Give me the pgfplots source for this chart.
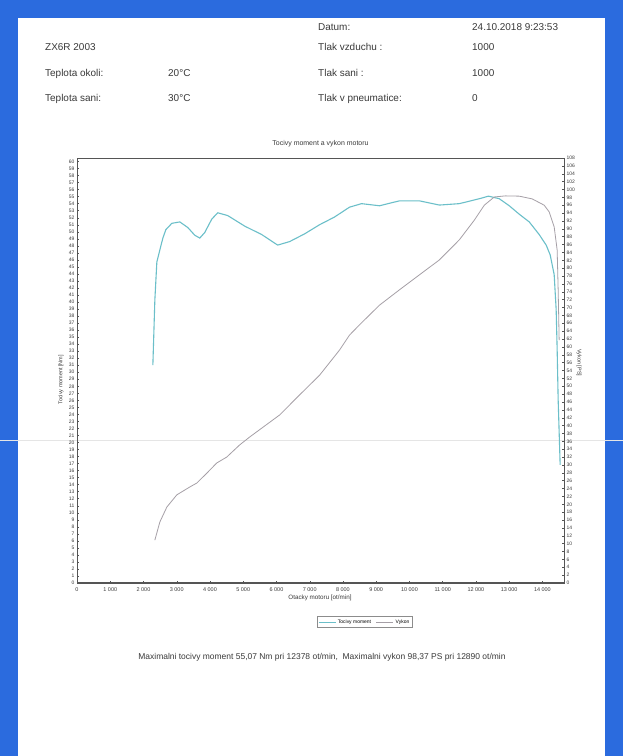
\documentclass[border=0pt]{standalone}
\usepackage{fontspec}
\setmainfont{Liberation Sans}
\usepackage{pgfplots}
\usepackage{pgfplotstable}
\pgfplotsset{compat=1.18}

\definecolor{scanblue}{HTML}{2B6BDE}
\definecolor{torq}{HTML}{6BBFC9}
\definecolor{pow}{HTML}{A59FA6}
\definecolor{ink}{HTML}{3A3A3A}
\definecolor{frame}{HTML}{555555}

% torque [Nm] vs rpm
\pgfplotstableread{
rpm Nm
2282 31.0
2342 40.3
2402 45.7
2492 47.4
2583 49.1
2673 50.3
2853 51.2
3093 51.4
3333 50.6
3544 49.5
3694 49.1
3844 49.9
4054 51.8
4234 52.7
4535 52.3
5045 50.8
5556 49.6
6036 48.1
6396 48.6
6847 49.7
7297 51.0
7748 52.1
8198 53.5
8559 54.0
9099 53.7
9700 54.4
10300 54.4
10901 53.8
11501 54.0
12102 54.7
12378 55.07
12703 54.7
13003 53.7
13303 52.5
13604 51.4
13904 49.6
14114 48.1
14234 46.7
14354 43.9
14414 38.9
14444 33.2
14474 26.1
14534 16.8
}\torque

% power [PS] vs rpm
\pgfplotstableread{
rpm PS
2342 10.9
2492 15.5
2703 19.3
3003 22.4
3393 24.4
3604 25.4
3904 27.9
4204 30.5
4504 32.0
4895 35.1
5195 37.1
6096 42.7
6697 47.8
7297 52.8
7898 59.2
8198 63.0
8498 65.6
9099 70.6
9700 74.5
10300 78.3
10901 82.1
11501 87.2
11952 92.2
12252 96.0
12553 98.1
12890 98.37
13303 98.3
13694 97.6
14054 96.0
14204 94.3
14354 90.5
14444 84.6
14474 74.5
14504 61.7
}\power

\begin{document}
\begin{tikzpicture}[x=1bp,y=1bp]
\useasboundingbox (0,0) rectangle (623,756);
\fill[scanblue] (0,0) rectangle (623,756);
\fill[white] (18,0) rectangle (605,738);
\draw[black!10, line width=0.6] (0,316) -- (623,316);

\begin{scope}[every node/.style={anchor=base west, text=ink, font=\fontsize{10}{12}\selectfont, inner sep=0pt}]
\node at (318,725.5) {Datum:};
\node at (472,725.5) {24.10.2018 9:23:53};
\node at (45,705.5) {ZX6R 2003};
\node at (318,705.5) {Tlak vzduchu :};
\node at (472,705.5) {1000};
\node at (45,679.5) {Teplota okoli:};
\node at (168,679.5) {20°C};
\node at (318,679.5) {Tlak sani :};
\node at (472,679.5) {1000};
\node at (45,654.5) {Teplota sani:};
\node at (168,654.5) {30°C};
\node at (318,654.5) {Tlak v pneumatice:};
\node at (472,654.5) {0};
\end{scope}

\node[text=ink, font=\fontsize{8.5}{10}\selectfont] at (322,99)
  {Maximalni tocivy moment 55,07 Nm pri 12378 ot/min,\ \ Maximalni vykon 98,37 PS pri 12890 ot/min};

\begin{axis}[
    at={(77bp,173bp)}, anchor=south west,
    scale only axis, width=487bp, height=425bp,
    xmin=0, xmax=14650, ymin=0, ymax=60.5,
    xtick={0,1000,...,14000}, ytick={0,1,...,60},
    xtick pos=bottom, ytick pos=left,
    major tick length=2bp,
    tick style={frame, line width=0.4},
    axis line style={frame, line width=0.9},
    tick label style={font=\fontsize{5}{6}\selectfont, text=ink},
    xticklabel style={font=\fontsize{5.5}{6}\selectfont, yshift=-1bp},
    yticklabel style={xshift=1bp},
    /pgf/number format/assume math mode=true,
    /pgf/number format/1000 sep={\ },
    scaled x ticks=false,
    title={Tocivy moment a vykon motoru},
    title style={font=\fontsize{7}{8}\selectfont, text=ink, at={(axis description cs:0.5,1.019)}, anchor=center},
    xlabel={Otacky motoru [ot/min]},
    xlabel style={font=\fontsize{6.3}{7}\selectfont, text=ink, at={(axis description cs:0.499,-0.035)}, anchor=center},
    ylabel={Tocivy moment [Nm]},
    ylabel style={font=\fontsize{5.5}{6}\selectfont, text=ink, at={(axis description cs:-0.033,0.478)}, anchor=center},
    legend columns=2,
    legend style={at={(axis description cs:0.591,-0.092)}, anchor=center,
        font=\fontsize{5}{6}\selectfont, draw=black!45, inner sep=1pt,
        /tikz/every even column/.append style={column sep=3bp}},
    legend image post style={line width=0.6},
]
\addplot[torq, line width=1.1] table[x=rpm, y=Nm] {\torque};
\addlegendentry{Tocivy moment}
\addlegendimage{pow, line width=0.8}
\addlegendentry{Vykon}
\draw[frame, line width=1.6] (rel axis cs:0,0) -- (rel axis cs:1,0);
\end{axis}

\begin{axis}[
    at={(77bp,173bp)}, anchor=south west,
    scale only axis, width=487bp, height=425bp,
    xmin=0, xmax=14650, ymin=0, ymax=108,
    hide x axis,
    axis y line*=right,
    ytick={0,2,...,108},
    major tick length=2bp,
    tick style={frame, line width=0.4},
    axis line style={frame, line width=0.9},
    tick label style={font=\fontsize{5}{6}\selectfont, text=ink},
    /pgf/number format/assume math mode=true,
    yticklabel style={xshift=-1bp},
    ylabel={Vykon [PS]},
    ylabel style={font=\fontsize{5.5}{6}\selectfont, text=ink, at={(axis description cs:1.031,0.518)}, anchor=center, rotate=180},
]
\addplot[pow, line width=0.8] table[x=rpm, y=PS] {\power};
\end{axis}
\end{tikzpicture}
\end{document}
